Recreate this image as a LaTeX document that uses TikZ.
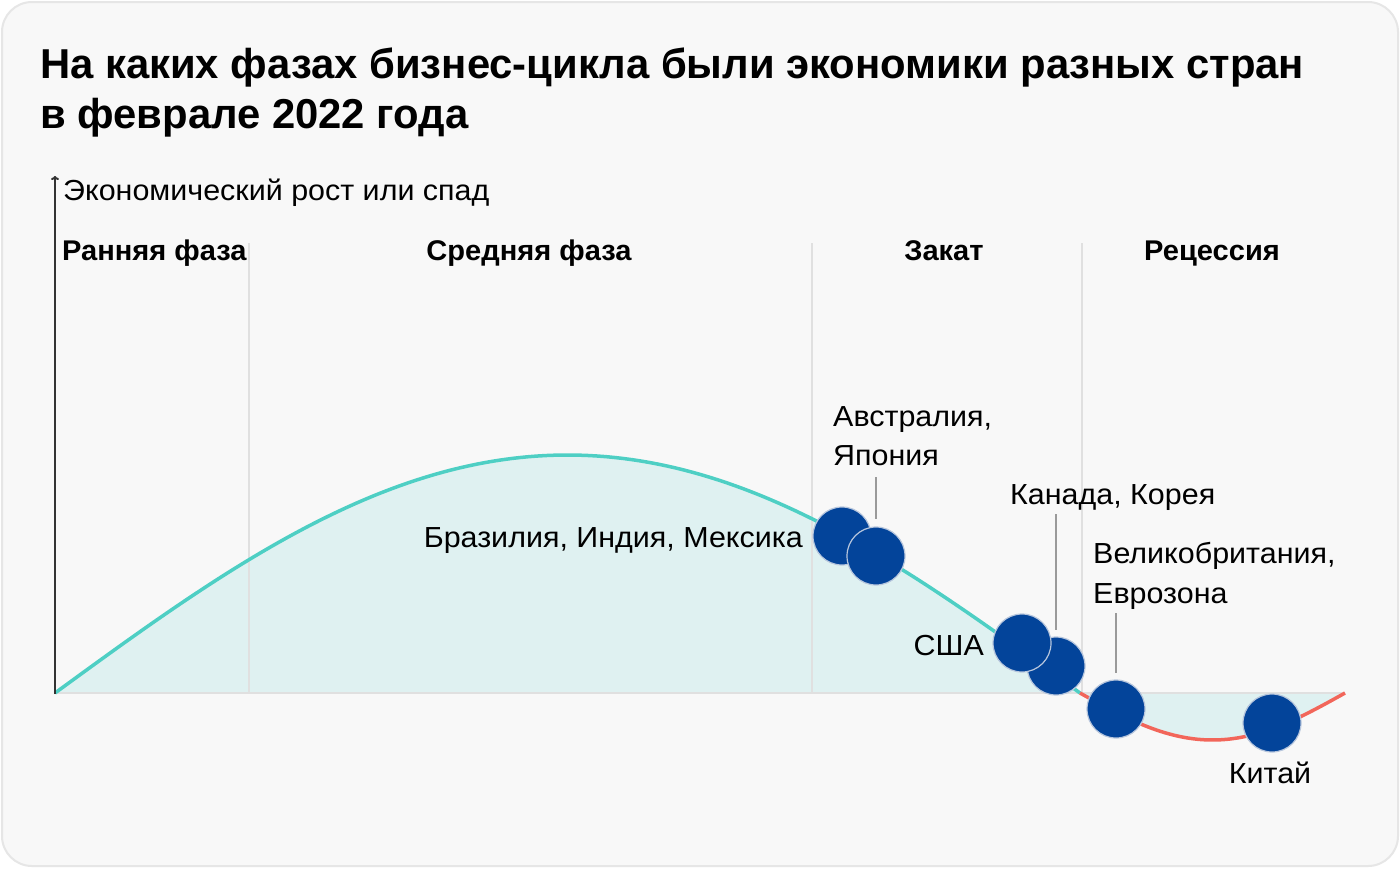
\documentclass[tikz,border=0pt]{standalone}
\usepackage{fontspec}
\setmainfont{Liberation Sans}
\newfontfamily\lblfont[FakeStretch=1.05]{Liberation Sans}
\newfontfamily\phfont[FakeStretch=1.02]{Liberation Sans}
\usetikzlibrary{arrows.meta}
\definecolor{bgc}{HTML}{F8F8F8}
\definecolor{bordc}{HTML}{E6E6E6}
\definecolor{tealc}{HTML}{4ECFC4}
\definecolor{fillc}{HTML}{DFF1F1}
\definecolor{redc}{HTML}{F2665A}
\definecolor{dotc}{HTML}{03449A}
\definecolor{dotline}{HTML}{B7C6DD}
\definecolor{gridc}{HTML}{E0E0E0}
\definecolor{leadc}{HTML}{9A9A9A}
\definecolor{axisc}{HTML}{333333}
\tikzset{
  titletxt/.style={anchor=base west, inner sep=0pt, font=\fontsize{41.8}{48}\selectfont\bfseries},
  phasetxt/.style={anchor=base, inner sep=0pt, font=\phfont\fontsize{28.5}{32}\selectfont\bfseries},
  lbl/.style={inner sep=0pt, font=\lblfont\fontsize{29}{34}\selectfont},
  dot/.style={circle, fill=dotc, draw=dotline, line width=1.2pt, minimum size=58pt, inner sep=0pt},
  gridline/.style={draw=gridc, line width=1.5pt},
  leader/.style={draw=leadc, line width=2pt},
}
\begin{document}
\begin{tikzpicture}[x=1pt,y=-1pt]
\useasboundingbox (0,0) rectangle (1400,868);
\fill[white] (0,0) rectangle (1400,868);
\draw[fill=bgc, draw=bordc, line width=2pt, rounded corners=30pt] (2,2) rectangle (1398,866);

% title
\node[titletxt] (t1) at (40,78) {На каких фазах бизнес-цикла были экономики разных стран};
\node[titletxt] (t2) at (40,128) {в феврале 2022 года};

% fills
\fill[fillc] plot[domain=55:1080, samples=120] ({\x},{693-238*sin(0.175610*(\x-55))}) -- cycle;
\fill[fillc] plot[domain=1080:1345, samples=60] ({\x},{693+47*sin(0.679245*(\x-1080))}) -- cycle;

% grid
\draw[gridline] (249,243) -- (249,693);
\draw[gridline] (812,243) -- (812,693);
\draw[gridline] (1082,243) -- (1082,693);
\draw[gridline] (55,693) -- (1345,693);

% curves
\draw[tealc, line width=3.5pt] plot[domain=55:1080, samples=120] ({\x},{693-238*sin(0.175610*(\x-55))});
\draw[redc, line width=3.5pt] plot[domain=1080:1345, samples=60] ({\x},{693+47*sin(0.679245*(\x-1080))});

% axis
\coordinate (ax0) at (55,694);
\coordinate (ax1) at (55,176);
\draw[axisc, line width=2pt, -{To[length=4pt,width=8pt]}] (ax0) -- (ax1);
\node[lbl, anchor=base west] (axl) at (63,200) {Экономический рост или спад};

% phases
\node[phasetxt, anchor=base west] (p1) at (62,260) {Ранняя фаза};
\node[phasetxt] (p2) at (529,260) {Средняя фаза};
\node[phasetxt] (p3) at (944,260) {Закат};
\node[phasetxt] (p4) at (1212,260) {Рецессия};

% dots
\node[dot] (bra) at (842,536) {};
\node[dot] (aus) at (876,556) {};
\node[dot] (can) at (1056,666) {};
\node[dot] (usa) at (1022,643) {};
\node[dot] (gbr) at (1116,709) {};
\node[dot] (chn) at (1272,723) {};

% labels
\node[lbl, anchor=base east] (lbra) at (803,547) {Бразилия, Индия, Мексика};
\node[lbl, anchor=base west] (laus1) at (833,426) {Австралия,};
\node[lbl, anchor=base west] (laus2) at (833,465) {Япония};
\node[lbl, anchor=base west] (lcan) at (1010,504) {Канада, Корея};
\node[lbl, anchor=base west] (lgbr1) at (1093,563) {Великобритания,};
\node[lbl, anchor=base west] (lgbr2) at (1093,603) {Еврозона};
\node[lbl, anchor=base east] (lusa) at (984,655) {США};
\node[lbl, anchor=base] (lchn) at (1270,783) {Китай};

% leaders
\coordinate (a1) at (876,477);
\coordinate (a2) at (876,519);
\draw[leader] (a1) -- (a2);
\coordinate (k1) at (1056,514);
\coordinate (k2) at (1056,630);
\draw[leader] (k1) -- (k2);
\coordinate (g1) at (1116,613);
\coordinate (g2) at (1116,673);
\draw[leader] (g1) -- (g2);
\end{tikzpicture}
\end{document}
